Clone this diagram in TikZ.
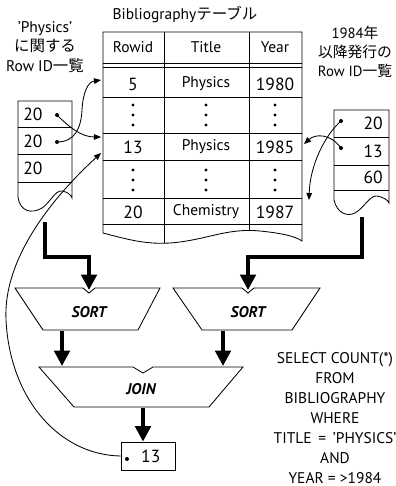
\documentclass[tikz,border=0pt]{standalone}
\usepackage{fontspec}
\setmainfont{PT Sans}
\newfontfamily\jpfont{Noto Sans CJK JP}
\usetikzlibrary{arrows.meta}

\begin{document}
\begin{tikzpicture}[
    x=0.025cm, y=-0.025cm,
    thinline/.style={line width=0.6pt},
    cell/.style={inner sep=0pt, font=\fontsize{11}{13}\selectfont},
    num/.style={inner sep=0pt, font=\fontsize{12.5}{14}\selectfont},
    listhead/.style={align=center, inner sep=0pt, font=\fontsize{11}{13.9}\selectfont},
    optext/.style={inner sep=0pt, font=\fontsize{11}{13}\selectfont\bfseries\itshape},
    ptr/.style={-{Triangle[length=5pt,width=4pt]}, line width=0.6pt},
    flow/.style={-{Triangle[length=11pt,width=11pt]}, line width=2.6pt}
]
\useasboundingbox (0,0) rectangle (395,486);

% Bibliography table
\node[cell] (tbltitle) at (185,15) {Bibliography{\jpfont テーブル}};
\draw[thinline] (103,233) -- (103,32) -- (302,32) -- (302,241)
    .. controls (295,236) and (280,233) .. (260,231)
    .. controls (230,228) and (210,238) .. (180,242)
    .. controls (150,246) and (130,240) .. (103,233) -- cycle;
\foreach \ry in {63,67,97,133,160,198,224}
    \draw[thinline] (103,\ry) -- (302,\ry);
\draw[thinline] (164,32) -- (164,243.3);
\draw[thinline] (249,32) -- (249,230.3);
\node[cell] (hrowid) at (133,47) {Rowid};
\node[cell] (htitle) at (206,47) {Title};
\node[cell] (hyear) at (275,47) {Year};
\node[num] (id5) at (133,84) {5};
\node[cell] (t5) at (206,84) {Physics};
\node[num] (y5) at (275,84) {1980};
\node[num] (id13) at (133,147) {13};
\node[cell] (t13) at (206,147) {Physics};
\node[num] (y13) at (275,147) {1985};
\node[num] (id20) at (133,212) {20};
\node[cell] (t20) at (206,212) {Chemistry};
\node[num] (y20) at (275,212) {1987};
\foreach \cx in {133,206,275}
    \foreach \cy in {105,115,125,170,180,190}
        \fill (\cx,\cy) circle (1.7);
\coordinate (tblfive) at (101,80);
\coordinate (tblmidA) at (101,137);
\coordinate (tblmidB) at (101,153);
\coordinate (tblright) at (304,144);
\coordinate (tbllow) at (309,200);

% 'Physics' Row ID list
\node[listhead] (physhead) at (45,47) {'Physics'\\{\jpfont に関する}\\Row ID{\jpfont 一覧}};
\draw[thinline] (18,101) -- (18,197)
    .. controls (20,212) and (32,214) .. (42,208)
    .. controls (50,203) and (55,190) .. (62,191)
    .. controls (68,192) and (71,195) .. (72,198) -- (72,101) -- cycle;
\foreach \ry in {127,154,182}
    \draw[thinline] (18,\ry) -- (72,\ry);
\node[num, anchor=west] (phys1) at (23,114) {20};
\node[num, anchor=west] (phys2) at (23,141) {20};
\node[num, anchor=west] (phys3) at (23,168) {20};
\coordinate (phys1dot) at (57,115);
\coordinate (phys2dot) at (57,142);
\fill (phys1dot) circle (2);
\fill (phys2dot) circle (2);
\coordinate (physout) at (45,222);

% 1984 Row ID list
\node[listhead, font=\fontsize{10.5}{13.5}\selectfont] (yrhead) at (355,52) {1984{\jpfont 年}\\{\jpfont 以降発行の}\\Row ID{\jpfont 一覧}};
\draw[thinline] (334,110) -- (334,200)
    .. controls (337,213) and (347,217) .. (355,213)
    .. controls (364,208) and (370,195) .. (377,196)
    .. controls (383,197) and (388,200) .. (389,203) -- (389,110) -- cycle;
\foreach \ry in {137,165,190}
    \draw[thinline] (334,\ry) -- (389,\ry);
\node[num, anchor=east] (yr1) at (383,123.5) {20};
\node[num, anchor=east] (yr2) at (383,151) {13};
\node[num, anchor=east] (yr3) at (383,177.5) {60};
\coordinate (yr1dot) at (341,121);
\coordinate (yr2dot) at (341,148);
\fill (yr1dot) circle (2);
\fill (yr2dot) circle (2);
\coordinate (yrout) at (362,217);

% pointers into the table
\draw[ptr] (phys1dot) .. controls (70,128) and (82,137) .. (tblmidA);
\draw[ptr] (phys2dot) .. controls (75,142) and (81,128) .. (82,110)
    .. controls (83,92) and (88,82) .. (tblfive);
\draw[ptr] (yr1dot) .. controls (325,135) and (310,165) .. (tbllow);
\draw[ptr] (yr2dot) .. controls (330,133) and (315,134) .. (tblright);

% SORT and JOIN
\draw[thinline] (15,288) -- (83,288) -- (89,293) -- (95,288) -- (160,288)
    -- (138,330) -- (43,330) -- cycle;
\node[optext] (sortL) at (89,312) {SORT};
\draw[thinline] (173,288) -- (242,288) -- (248,293) -- (254,288) -- (320,288)
    -- (292,330) -- (202,330) -- cycle;
\node[optext] (sortR) at (248,312) {SORT};
\draw[thinline] (39,367) -- (133,367) -- (143,373) -- (153,367) -- (243,367)
    -- (209,407) -- (74,407) -- cycle;
\node[optext] (join) at (141,389) {JOIN};
\coordinate (sortLin) at (89,290);
\coordinate (sortRin) at (248,290);
\coordinate (sortLout) at (62,331);
\coordinate (sortRout) at (223,331);
\coordinate (joinLin) at (62,366);
\coordinate (joinRin) at (223,366);
\coordinate (joinout) at (143,408);

% result
\node[draw, thinline, num, minimum width=1.35cm, minimum height=0.7cm] (res) at (148,456) {\hspace{4pt}13};
\fill (127,459) circle (2);

% flow arrows
\draw[flow] (physout) -- ++(0,35) -| (sortLin);
\draw[flow] (yrout) -- ++(0,40) -| (sortRin);
\draw[flow] (sortLout) -- (joinLin);
\draw[flow] (sortRout) -- (joinRin);
\draw[flow] (joinout) -- (joinout |- res.north);
\draw[ptr] (res.west) .. controls (60,455) and (10,400) .. (6,320)
    .. controls (3,260) and (50,200) .. (tblmidB);

% query
\node[listhead, font=\fontsize{11}{14.3}\selectfont] (query) at (335,418)
    {SELECT COUNT(*)\\FROM\\BIBLIOGRAPHY\\WHERE\\TITLE \,=\, 'PHYSICS'\\AND\\YEAR = >1984};
\end{tikzpicture}
\end{document}
